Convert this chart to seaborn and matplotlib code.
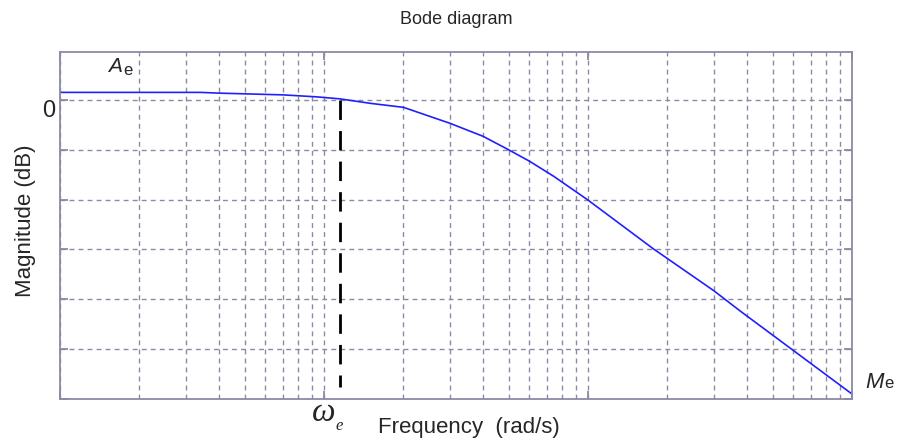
import matplotlib
matplotlib.use("Agg")
import matplotlib.pyplot as plt
import seaborn as sns
import pandas as pd
import numpy as np

# Data (x: rad/s on log axis, y: dB)
freq = [1, 3.4, 4, 7, 9.4, 11.5, 15, 20, 30, 40, 50, 60, 74, 100, 176, 300, 376, 1000]
mag = [1.5, 1.5, 1.35, 1.0, 0.6, 0.2, -0.7, -1.5, -4.7, -7.3, -10, -12.3, -15.3, -20.1, -29.8, -38.3, -42.3, -59]
omega_e = 11.5
y_ticks = [-60, -50, -40, -30, -20, -10, 0]

sns.set_style("white")
plt.rcParams['font.family'] = ['Liberation Sans', 'DejaVu Sans']

fig = plt.figure(figsize=(8.97, 4.46), dpi=100)
ax = fig.add_axes([60/897, 47/446, 792/897, 347/446])

df = pd.DataFrame({"freq": freq, "mag": mag})
sns.lineplot(data=df, x="freq", y="mag", ax=ax, color="#2020ff", lw=1.2)

ax.set_xscale("log")
ax.set_xlim(1, 1000)
ax.set_ylim(-60, 9.6)

edge = "#8a8aa6"
ax.set_yticks(y_ticks)
ax.yaxis.set_major_formatter(matplotlib.ticker.NullFormatter())
ax.xaxis.set_major_locator(matplotlib.ticker.LogLocator(base=10, numticks=10))
ax.xaxis.set_minor_locator(matplotlib.ticker.LogLocator(base=10, subs=np.arange(2, 10), numticks=100))
ax.xaxis.set_major_formatter(matplotlib.ticker.NullFormatter())
ax.xaxis.set_minor_formatter(matplotlib.ticker.NullFormatter())
ax.tick_params(axis="both", which="major", direction="in", length=6, width=1.3,
               color=edge, top=True, right=True, left=True, bottom=True)
ax.tick_params(axis="x", which="minor", length=0)

ax.grid(True, which="major", axis="y", color=edge, linestyle=(0, (3.5, 3)), lw=1)
ax.grid(True, which="both", axis="x", color=edge, linestyle=(0, (3.5, 3)), lw=1)
ax.set_axisbelow(True)
for s in ax.spines.values():
    s.set_color(edge)
    s.set_linewidth(1.3)

ax.set_xlabel("")
ax.set_ylabel("")

# omega_e dashed marker
ax.plot([omega_e, omega_e], [0, -57.6], color="black", lw=2, linestyle=(0, (7, 4)))

# texts
fig.text(456/897, 1 - 20/446, "Bode diagram", ha="center", va="center", fontsize=13)
fig.text(26/897, 225/446, "Magnitude (dB)", ha="center", va="center", rotation=90, fontsize=16)
fig.text(469/897, 1 - 428/446, "Frequency  (rad/s)", ha="center", va="center", fontsize=16)
fig.text(49/897, 1 - 117/446, "0", ha="center", va="baseline", fontsize=17)

fig.text(108/897, 1 - 72/446, "A", fontsize=15, style="italic", ha="left", va="baseline")
fig.text(123/897, 1 - 75/446, "e", fontsize=12, ha="left", va="baseline")
fig.text(865/897, 1 - 388/446, "M", fontsize=16, style="italic", ha="left", va="baseline")
fig.text(884/897, 1 - 388/446, "e", fontsize=12, ha="left", va="baseline")
fig.text(312/897, 1 - 421/446, "\u03c9", fontsize=24, style="italic",
         family=["Liberation Serif", "DejaVu Serif"], ha="left", va="baseline")
fig.text(335/897, 1 - 430/446, "e", fontsize=12, style="italic",
         family=["Liberation Serif", "DejaVu Serif"], ha="left", va="baseline")

fig.savefig("out.png", dpi=100)
